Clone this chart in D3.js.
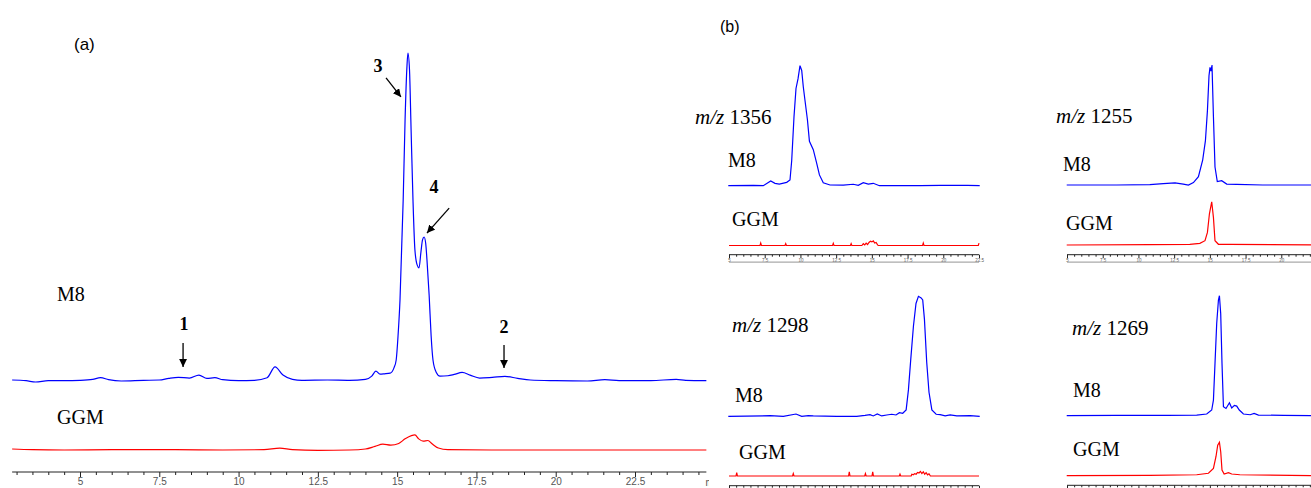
<!DOCTYPE html>
<html>
<head>
<meta charset="utf-8">
<script src="https://cdn.jsdelivr.net/npm/d3@7"></script>
<style>
  body { margin: 0; background: #fff; }
  svg { display: block; }
</style>
</head>
<body>
<script>
// ---------------- data (retention time in min, relative intensity) ----------------
var majorTicks = [5, 7.5, 10, 12.5, 15, 17.5, 20, 22.5];

// panel (a): full chromatograms
var m8Full = [[2.86,0.3],[3.3,0.1],[3.6,-0.3],[4.0,0.1],[4.5,0.1],[5.0,0.2],[5.4,0.5],[5.65,1.0],[5.9,0.4],[6.3,0.0],[7.0,0.2],[7.5,0.3],[7.8,0.8],[8.1,1.1],[8.45,0.9],[8.75,1.8],[9.0,0.8],[9.25,1.0],[9.5,0.4],[10.0,0.1],[10.5,0.2],[10.9,1.0],[11.15,4.3],[11.4,1.8],[11.7,0.5],[12.0,0.2],[12.8,0.3],[13.5,0.2],[14.0,0.5],[14.2,1.5],[14.33,3.0],[14.46,2.1],[14.6,2.2],[14.78,2.4],[14.9,4],[14.97,6.4],[15.03,14],[15.09,24.7],[15.19,55],[15.25,79.6],[15.31,96],[15.34,100],[15.39,94.8],[15.44,76.5],[15.5,55],[15.56,40],[15.63,35.4],[15.69,34.5],[15.75,39.3],[15.8,43],[15.85,43.9],[15.9,42],[15.94,37],[16.01,26],[16.07,14],[16.13,6.4],[16.23,2.7],[16.35,1.5],[16.6,1.6],[16.8,2.0],[17.05,2.6],[17.3,1.8],[17.6,0.9],[18.0,1.1],[18.4,1.4],[18.8,0.8],[19.2,0.3],[20.0,0.1],[21.0,0.0],[21.55,0.4],[22.0,0.1],[23.0,0.1],[23.8,0.5],[24.1,0.2],[24.75,0.1]];
var ggmFull = [[2.86,0.3],[3.5,0.1],[4.5,0],[6,0.1],[8,0.1],[9.5,0],[10.8,0.1],[11.3,0.6],[11.7,0.1],[12.5,-0.1],[13.5,0],[14.0,0.3],[14.3,1.1],[14.55,1.8],[14.8,1.5],[15.05,2.0],[15.25,3.4],[15.45,4.4],[15.56,4.6],[15.68,3.4],[15.82,2.7],[15.97,2.9],[16.1,1.9],[16.3,0.6],[16.6,0.1],[18,0],[20,0],[22.5,0],[24.75,0]];

// peak annotations in panel (a): label, label pos, arrow tail, arrow tip
var peakNotes = [
  {label: "1", lt: 8.28, lv: 15.5, t0: 8.25, v0: 11.6, t1: 8.25, v1: 4.3},
  {label: "2", lt: 18.37, lv: 14.6, t0: 18.37, v0: 11.0, t1: 18.37, v1: 4.0},
  {label: "3", lt: 14.4, lv: 94.2, t0: 14.65, v0: 92.4, t1: 15.12, v1: 86.6},
  {label: "4", lt: 16.16, lv: 57.3, t0: 16.64, v0: 52.7, t1: 15.94, v1: 45.1}
];

// panel (b): extracted ion chromatograms
var mzValues = ["1356", "1255", "1298", "1269"];

var m8_1356 = [[4.95,0],[6.7,0.2],[7.4,0],[7.92,3.9],[8.22,2],[8.52,1.4],[9.04,2.8],[9.27,4.8],[9.39,21],[9.55,57.5],[9.69,81],[9.83,89],[9.97,100],[10.09,96],[10.2,82.5],[10.32,71],[10.49,55],[10.63,37],[10.9,30],[11.14,18.6],[11.33,9],[11.6,2.5],[12.07,0.6],[13.0,0.4],[13.7,1.2],[14.05,0.3],[14.4,2.5],[14.75,1.4],[15.1,2],[15.53,0],[16.5,0],[18.4,0],[19.8,0.3],[21.7,0.3],[22.55,0]];
var ggm_1356 = [[5.0,0],[7.17,0],[7.22,2],[7.27,0],[8.92,0],[8.97,1.5],[9.02,0],[12.25,0],[12.3,1.8],[12.35,0],[13.5,0],[13.55,1.5],[13.6,0],[14.3,0],[14.4,1.5],[14.5,0.5],[14.6,2],[14.7,0.8],[14.8,2.5],[14.9,3.5],[15.0,3],[15.1,3.8],[15.2,2],[15.3,2.5],[15.4,0.5],[15.45,0],[18.55,0],[18.6,2],[18.65,0],[22.45,0],[22.5,2]];

var m8_1255 = [[4.98,0],[8.48,0],[10.8,0.3],[11.74,1.1],[12.56,1.7],[13.14,0.8],[13.5,0],[13.85,2],[14.2,7],[14.5,21],[14.69,37],[14.83,62],[14.94,91],[15.01,98],[15.08,95],[15.15,100],[15.25,57],[15.36,15],[15.52,2.8],[15.83,3.6],[16.18,0.8],[16.88,0.5],[18.7,0],[22.5,0]];
var ggm_1255 = [[4.98,0],[10.8,0.3],[13.6,0.5],[14.3,1.4],[14.66,3.6],[14.83,10.5],[14.97,26],[15.13,36],[15.25,23],[15.36,3.6],[15.6,0.6],[16.4,0.6],[22.5,0]];

var m8_1298 = [[4.95,0],[7.87,0.5],[8.8,0],[9.69,1.9],[10.09,0],[10.55,0.5],[10.9,0.3],[12.54,0],[13.94,0],[14.52,0.8],[14.87,1.4],[15.1,0.3],[15.38,1.9],[15.69,0.3],[16.04,1.1],[16.39,1.7],[16.69,1.1],[16.93,3],[17.16,2.5],[17.4,5.3],[17.56,22],[17.72,47],[17.91,75],[18.09,94],[18.26,100],[18.45,98.7],[18.56,97],[18.68,81],[18.84,45],[19.0,20],[19.2,5.3],[19.5,1.7],[19.78,1.4],[20.13,0.3],[20.48,1.1],[20.95,0.3],[21.88,0.5],[22.55,0]];
var ggm_1298 = [[5.0,0],[5.49,0],[5.54,2.8],[5.59,0],[9.45,0],[9.5,2],[9.55,0],[13.37,0],[13.42,3.5],[13.47,0],[14.5,0],[14.55,2],[14.6,0],[15.01,0],[15.06,3.5],[15.11,0],[16.92,0],[16.97,1.5],[17.02,0],[17.75,0],[17.8,1.5],[17.9,1],[18.0,2],[18.1,1.5],[18.2,3],[18.3,2.5],[18.4,3.8],[18.5,2],[18.6,3.5],[18.7,1.5],[18.8,2.8],[18.9,1],[19.0,1.8],[19.1,0],[22.5,0]];

var m8_1269 = [[4.98,0],[8.48,0.3],[11.98,0.3],[14.08,0.5],[14.78,1.4],[15.13,4.75],[15.25,13],[15.36,43.6],[15.48,77],[15.6,96.4],[15.67,100],[15.76,85],[15.85,43.6],[15.95,7.5],[16.13,6],[16.37,10.8],[16.53,6.4],[16.72,8.6],[16.88,8],[17.06,4.75],[17.35,1.4],[17.82,0.8],[18.1,1.9],[18.4,0.5],[20.15,0.3],[22.5,0]];
var ggm_1269 = [[4.98,0],[10.8,0.3],[14.08,0.8],[14.9,2],[15.25,6],[15.43,16],[15.55,25.5],[15.67,27.8],[15.76,20],[15.85,4.7],[16.0,1.4],[16.3,2.5],[16.53,1.4],[17.1,0.8],[22.5,0]];

// ------------------------------------------------------------------------------
var W = 1311, H = 488;
var BLUE = "#0000ff", RED = "#ff0000";
var serif = "'Liberation Serif', 'Times New Roman', serif";
var sans = "'Liberation Sans', Arial, sans-serif";

var svg = d3.select("body").append("svg")
    .attr("width", W)
    .attr("height", H);

var defs = svg.append("defs");
defs.append("clipPath").attr("id", "clipA")
  .append("rect").attr("x", 0).attr("y", 0).attr("width", 709).attr("height", H);

defs.append("marker")
    .attr("id", "arrowHead")
    .attr("viewBox", "0 0 10 10")
    .attr("refX", 10).attr("refY", 5)
    .attr("markerUnits", "userSpaceOnUse")
    .attr("markerWidth", 8).attr("markerHeight", 8)
    .attr("orient", "auto")
  .append("path")
    .attr("d", "M0,0 L10,5 L0,10 z")
    .attr("fill", "#000");

function traceLine(x, y, curve) {
  return d3.line()
    .x(function(d) { return x(d[0]); })
    .y(function(d) { return y(d[1]); })
    .curve(curve || d3.curveLinear);
}

function drawAxis(g, x, axisY, tFrom, tTo, step, majorSize, minorSize, fontSize, pad) {
  var minor = d3.range(Math.ceil(tFrom / step) * step, tTo + 1e-6, step)
      .filter(function(t) { return majorTicks.indexOf(+t.toFixed(2)) < 0; });

  g.append("g")
      .attr("transform", "translate(0," + axisY + ")")
      .call(d3.axisBottom(x).tickValues(minor).tickSize(minorSize).tickFormat(""))
      .call(function(a) { a.select(".domain").remove(); })
      .selectAll("line").attr("stroke", "#222");

  var major = g.append("g")
      .attr("transform", "translate(0," + axisY + ")")
      .call(d3.axisBottom(x).tickValues(majorTicks).tickSize(majorSize).tickPadding(pad)
        .tickFormat(function(d) { return String(d); }))
      .call(function(a) { a.select(".domain").remove(); });
  major.selectAll("line").attr("stroke", "#222");
  major.selectAll("text")
      .attr("font-family", sans)
      .attr("font-size", fontSize)
      .attr("fill", "#555");

  g.append("line")
      .attr("x1", x(tFrom)).attr("x2", x(tTo))
      .attr("y1", axisY).attr("y2", axisY)
      .attr("stroke", "#222")
      .attr("stroke-width", 1);
}

/////////////////////// panel (a) ///////////////////////
var gA = svg.append("g").attr("clip-path", "url(#clipA)");

var xA = d3.scaleLinear().domain([5, 22.5]).range([80, 635]);
var yM8 = d3.scaleLinear().domain([0, 100]).range([381, 53]);
var yGGM = d3.scaleLinear().domain([0, 100]).range([450, 122]);

gA.append("path")
    .attr("d", traceLine(xA, yM8, d3.curveMonotoneX)(m8Full))
    .attr("fill", "none")
    .attr("stroke", BLUE)
    .attr("stroke-width", 1.2);

gA.append("path")
    .attr("d", traceLine(xA, yGGM, d3.curveMonotoneX)(ggmFull))
    .attr("fill", "none")
    .attr("stroke", RED)
    .attr("stroke-width", 1.2);

drawAxis(gA, xA, 472, 2.86, 24.75, 0.5, 5, 3, 10, 1);
gA.append("text")
    .attr("x", xA(24.72)).attr("y", 486)
    .attr("font-family", sans).attr("font-size", 10).attr("fill", "#555")
    .text("min");

gA.append("text").attr("x", 74).attr("y", 50)
    .attr("font-family", sans).attr("font-size", 17).attr("fill", "#000")
    .text("(a)");
gA.append("text").attr("x", 57).attr("y", 301)
    .attr("font-family", serif).attr("font-size", 20).text("M8");
gA.append("text").attr("x", 57).attr("y", 424)
    .attr("font-family", serif).attr("font-size", 20).text("GGM");

peakNotes.forEach(function(p) {
  gA.append("text")
      .attr("x", xA(p.lt)).attr("y", yM8(p.lv))
      .attr("text-anchor", "middle")
      .attr("font-family", serif).attr("font-weight", "bold").attr("font-size", 18)
      .text(p.label);
  gA.append("line")
      .attr("x1", xA(p.t0)).attr("y1", yM8(p.v0))
      .attr("x2", xA(p.t1)).attr("y2", yM8(p.v1))
      .attr("stroke", "#000").attr("stroke-width", 1.3)
      .attr("marker-end", "url(#arrowHead)");
});

/////////////////////// panel (b) ///////////////////////
svg.append("text").attr("x", 720).attr("y", 32)
    .attr("font-family", sans).attr("font-size", 16).text("(b)");

var subPanels = [
  {mz: mzValues[0], m8: m8_1356, ggm: ggm_1356, x0: 729, base: 185.7, gap: 59.8, axisY: 254.7,
   mzX: 695, mzY: 124, m8X: 728, m8Y: 167, ggmX: 732, ggmY: 226},
  {mz: mzValues[1], m8: m8_1255, ggm: ggm_1255, x0: 1067, base: 185, gap: 60, axisY: 254.7,
   mzX: 1056, mzY: 123, m8X: 1063, m8Y: 171, ggmX: 1066, ggmY: 230},
  {mz: mzValues[2], m8: m8_1298, ggm: ggm_1298, x0: 729, base: 416.3, gap: 59.7, axisY: 485.7,
   mzX: 732, mzY: 332, m8X: 735, m8Y: 402, ggmX: 739, ggmY: 459},
  {mz: mzValues[3], m8: m8_1269, ggm: ggm_1269, x0: 1067, base: 415.7, gap: 60, axisY: 485.3,
   mzX: 1072, mzY: 335, m8X: 1073, m8Y: 397, ggmX: 1073, ggmY: 456}
];

subPanels.forEach(function(p) {
  var g = svg.append("g");
  var x = d3.scaleLinear().domain([5, 22.5]).range([p.x0, p.x0 + 250]);
  var yB = d3.scaleLinear().domain([0, 100]).range([p.base, p.base - 120]);
  var yR = d3.scaleLinear().domain([0, 100]).range([p.base + p.gap, p.base + p.gap - 120]);

  g.append("path")
      .attr("d", traceLine(x, yB)(p.m8))
      .attr("fill", "none").attr("stroke", BLUE).attr("stroke-width", 1.2);
  g.append("path")
      .attr("d", traceLine(x, yR)(p.ggm))
      .attr("fill", "none").attr("stroke", RED).attr("stroke-width", 1.2);

  drawAxis(g, x, p.axisY, 5, 22.5, 0.5, 3.5, 2, 4.5, 1);
  g.append("line")
      .attr("x1", x(5)).attr("x2", x(22.5))
      .attr("y1", p.axisY + 7.5).attr("y2", p.axisY + 7.5)
      .attr("stroke", "#aaa").attr("stroke-width", 1.2);

  var mzText = g.append("text").attr("x", p.mzX).attr("y", p.mzY)
      .attr("font-family", serif).attr("font-size", 21);
  mzText.append("tspan").attr("font-style", "italic").text("m/z");
  mzText.append("tspan").text(" " + p.mz);

  g.append("text").attr("x", p.m8X).attr("y", p.m8Y)
      .attr("font-family", serif).attr("font-size", 20).text("M8");
  g.append("text").attr("x", p.ggmX).attr("y", p.ggmY)
      .attr("font-family", serif).attr("font-size", 20).text("GGM");
});
</script>
</body>
</html>
